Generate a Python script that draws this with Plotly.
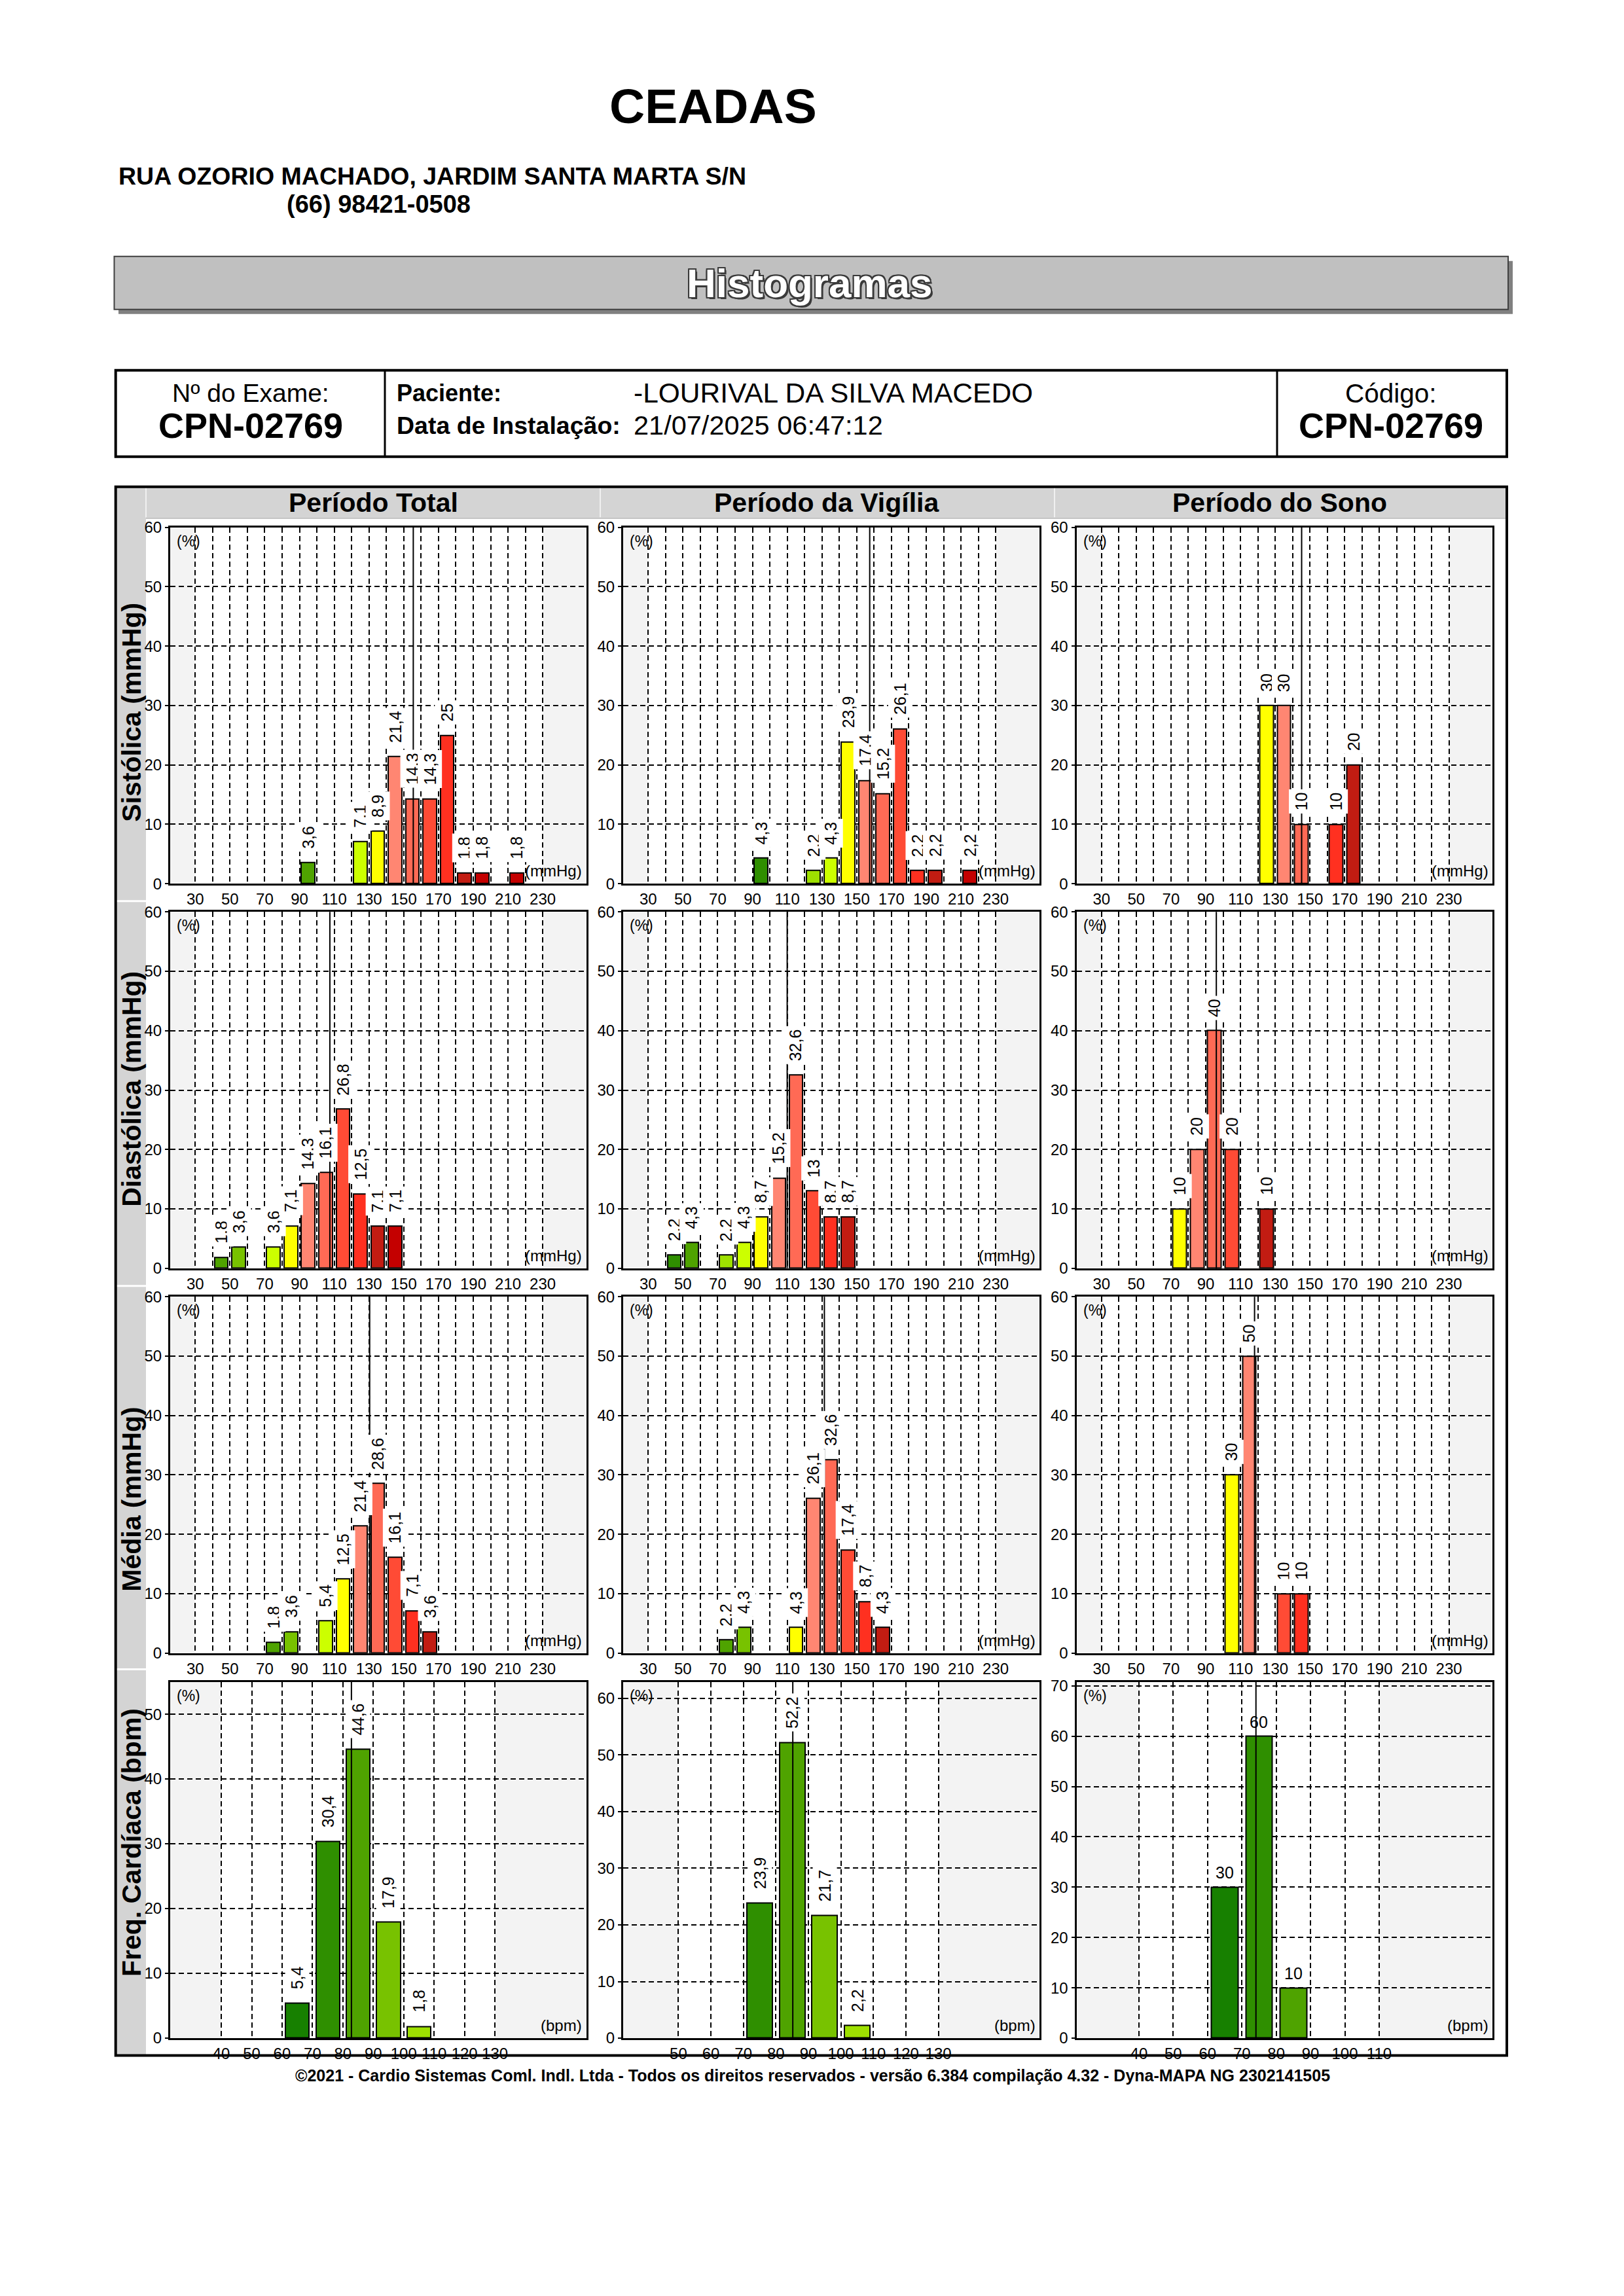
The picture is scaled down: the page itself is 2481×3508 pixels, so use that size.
import plotly.graph_objects as go

W, H = 2481, 3508
FONT = "Liberation Sans, Arial, Helvetica, sans-serif"

# ---------------- text ----------------
title_text = "CEADAS"
address_text = "RUA OZORIO MACHADO, JARDIM SANTA MARTA S/N"
phone_text = "(66) 98421-0508"
band_text = "Histogramas"
exam_label = "Nº do Exame:"
exam_code = "CPN-02769"
patient_label = "Paciente:"
patient_name = "-LOURIVAL DA SILVA MACEDO"
install_label = "Data de Instalação:"
install_date = "21/07/2025 06:47:12"
code_label = "Código:"
code_value = "CPN-02769"
footer_text = ("©2021 - Cardio Sistemas Coml. Indl. Ltda - Todos os direitos reservados - "
               "versão 6.384 compilação 4.32 - Dyna-MAPA NG 2302141505")
col_titles = ["Período Total", "Período da Vigília", "Período do Sono"]
row_titles = ["Sistólica (mmHg)", "Diastólica (mmHg)", "Média (mmHg)", "Freq. Cardíaca (bpm)"]
row_units = ["(mmHg)", "(mmHg)", "(mmHg)", "(bpm)"]

# ---------------- tick labels ----------------
bp_ticks = [30, 40, 50, 60, 70, 80, 90, 100, 110, 120, 130, 140, 150, 160, 170, 180, 190, 200, 210, 220, 230]
bp_tick_labels = ["30", "", "50", "", "70", "", "90", "", "110", "", "130", "", "150", "", "170", "",
                  "190", "", "210", "", "230"]
fc_total_ticks = [40, 50, 60, 70, 80, 90, 100, 110, 120, 130]
fc_vig_ticks = [50, 60, 70, 80, 90, 100, 110, 120, 130]
fc_sono_ticks = [40, 50, 60, 70, 80, 90, 100, 110]
bp_y_ticks = [0, 10, 20, 30, 40, 50, 60]
fc_total_y_ticks = [0, 10, 20, 30, 40, 50]
fc_vig_y_ticks = [0, 10, 20, 30, 40, 50, 60]
fc_sono_y_ticks = [0, 10, 20, 30, 40, 50, 60, 70]

# ---------------- data (bin lower edge, % of readings) ----------------
sys_total_bins = [90, 120, 130, 140, 150, 160, 170, 180, 190, 210]
sys_total_vals = [3.6, 7.1, 8.9, 21.4, 14.3, 14.3, 25, 1.8, 1.8, 1.8]
sys_vig_bins = [90, 120, 130, 140, 150, 160, 170, 180, 190, 210]
sys_vig_vals = [4.3, 2.2, 4.3, 23.9, 17.4, 15.2, 26.1, 2.2, 2.2, 2.2]
sys_sono_bins = [120, 130, 140, 160, 170]
sys_sono_vals = [30, 30, 10, 10, 20]

dia_total_bins = [40, 50, 70, 80, 90, 100, 110, 120, 130, 140]
dia_total_vals = [1.8, 3.6, 3.6, 7.1, 14.3, 16.1, 26.8, 12.5, 7.1, 7.1]
dia_vig_bins = [40, 50, 70, 80, 90, 100, 110, 120, 130, 140]
dia_vig_vals = [2.2, 4.3, 2.2, 4.3, 8.7, 15.2, 32.6, 13, 8.7, 8.7]
dia_sono_bins = [70, 80, 90, 100, 120]
dia_sono_vals = [10, 20, 40, 20, 10]

med_total_bins = [70, 80, 100, 110, 120, 130, 140, 150, 160]
med_total_vals = [1.8, 3.6, 5.4, 12.5, 21.4, 28.6, 16.1, 7.1, 3.6]
med_vig_bins = [70, 80, 110, 120, 130, 140, 150, 160]
med_vig_vals = [2.2, 4.3, 4.3, 26.1, 32.6, 17.4, 8.7, 4.3]
med_sono_bins = [100, 110, 130, 140]
med_sono_vals = [30, 50, 10, 10]

fc_total_bins = [60, 70, 80, 90, 100]
fc_total_vals = [5.4, 30.4, 44.6, 17.9, 1.8]
fc_vig_bins = [70, 80, 90, 100]
fc_vig_vals = [23.9, 52.2, 21.7, 2.2]
fc_sono_bins = [60, 70, 80]
fc_sono_vals = [30, 60, 10]

# mean values (vertical line)
sys_means = [155.5, 157.5, 145.2]
dia_means = [107.5, 110.0, 96.1]
med_means = [130.4, 131.4, 118.1]
fc_means = [82.8, 85.2, 74.1]

# ---------------- styles ----------------
DKGREEN1 = "#178000"
DKGREEN2 = "#2f8f00"
GREEN = "#4fa300"
YG = "#78c200"
LIME2 = "#9ee000"
LIME = "#ccff00"
YELLOW = "#ffff00"
SALMON = "#ff8672"
SALMON2 = "#ff6a55"
REDOR = "#ff4b35"
RED = "#ff3020"
DKRED = "#c21c12"
CRIMSON = "#c40000"

sys_total_colors = [GREEN, LIME, YELLOW, SALMON, SALMON2, REDOR, RED, DKRED, CRIMSON, CRIMSON]
sys_vig_colors = [DKGREEN2, LIME2, LIME, YELLOW, SALMON, SALMON2, REDOR, RED, DKRED, CRIMSON]
sys_sono_colors = [YELLOW, SALMON, SALMON2, RED, DKRED]
dia_total_colors = [GREEN, YG, LIME, YELLOW, SALMON, SALMON2, REDOR, RED, DKRED, CRIMSON]
dia_vig_colors = [DKGREEN2, GREEN, LIME2, LIME, YELLOW, SALMON, SALMON2, REDOR, RED, DKRED]
dia_sono_colors = [YELLOW, SALMON, SALMON2, REDOR, DKRED]
med_total_colors = [GREEN, YG, LIME, YELLOW, SALMON, SALMON2, REDOR, RED, DKRED]
med_vig_colors = [GREEN, YG, YELLOW, SALMON, SALMON2, REDOR, RED, DKRED]
med_sono_colors = [YELLOW, SALMON, REDOR, RED]
fc_total_colors = [DKGREEN1, DKGREEN2, GREEN, YG, LIME2]
fc_vig_colors = [DKGREEN2, GREEN, YG, LIME2]
fc_sono_colors = [DKGREEN1, DKGREEN2, GREEN]

# layout geometry (pixels)
COL_LEFT = [260, 952, 1644.5]
PANEL_W = 635.5
ROW_TOP = [805, 1392.6, 1980.6, 2569]
PANEL_H = 544.5
BIN_W = 10
BAR_W = 7.8
# vertical calibration of the rendered page (observed affine squeeze)
Y_OFF, Y_SCALE = 13.2, 0.99238


def px(x):
    return x / W


def py(y):
    return 1 - ((y - Y_OFF) / Y_SCALE) / H


def fmt(v):
    return f"{v:g}".replace(".", ",")


BP_XR = [15.6, 255]
panels = [
    dict(bins=sys_total_bins, vals=sys_total_vals, colors=sys_total_colors, mean=sys_means[0]),
    dict(bins=sys_vig_bins, vals=sys_vig_vals, colors=sys_vig_colors, mean=sys_means[1]),
    dict(bins=sys_sono_bins, vals=sys_sono_vals, colors=sys_sono_colors, mean=sys_means[2]),
    dict(bins=dia_total_bins, vals=dia_total_vals, colors=dia_total_colors, mean=dia_means[0]),
    dict(bins=dia_vig_bins, vals=dia_vig_vals, colors=dia_vig_colors, mean=dia_means[1]),
    dict(bins=dia_sono_bins, vals=dia_sono_vals, colors=dia_sono_colors, mean=dia_means[2]),
    dict(bins=med_total_bins, vals=med_total_vals, colors=med_total_colors, mean=med_means[0]),
    dict(bins=med_vig_bins, vals=med_vig_vals, colors=med_vig_colors, mean=med_means[1]),
    dict(bins=med_sono_bins, vals=med_sono_vals, colors=med_sono_colors, mean=med_means[2]),
    dict(bins=fc_total_bins, vals=fc_total_vals, colors=fc_total_colors, mean=fc_means[0]),
    dict(bins=fc_vig_bins, vals=fc_vig_vals, colors=fc_vig_colors, mean=fc_means[1]),
    dict(bins=fc_sono_bins, vals=fc_sono_vals, colors=fc_sono_colors, mean=fc_means[2]),
]
for i in range(9):
    panels[i].update(xr=BP_XR, yr=[0, 60], xt=bp_ticks, xtt=bp_tick_labels, yt=bp_y_ticks,
                     white=[bp_ticks[0], bp_ticks[-1]], rot=True)
panels[9].update(xr=[23.2, 160], yr=[0, 55], xt=fc_total_ticks, xtt=[str(t) for t in fc_total_ticks],
                 yt=fc_total_y_ticks, white=[fc_total_ticks[0], fc_total_ticks[-1]], rot=True)
panels[10].update(xr=[33, 161], yr=[0, 62.9], xt=fc_vig_ticks, xtt=[str(t) for t in fc_vig_ticks],
                  yt=fc_vig_y_ticks, white=[fc_vig_ticks[0], fc_vig_ticks[-1]], rot=True)
panels[11].update(xr=[21.8, 143], yr=[0, 70.8], xt=fc_sono_ticks, xtt=[str(t) for t in fc_sono_ticks],
                  yt=fc_sono_y_ticks, white=[fc_sono_ticks[0], fc_sono_ticks[-1]], rot=False)

fig = go.Figure()
shapes = []
annotations = []
layout_axes = {}

tickfont = dict(family=FONT, size=24, color="black")

# ---------------- page decoration (drawn below the plots) ----------------
BOX_L, BOX_R = 176.7, 2302
shapes.append(dict(type="rect", xref="paper", yref="paper", x0=px(181), x1=px(2311),
                   y0=py(479), y1=py(398), fillcolor="#808080", line=dict(width=0), layer="below"))
shapes.append(dict(type="rect", xref="paper", yref="paper", x0=px(174.5), x1=px(2304),
                   y0=py(472), y1=py(391), fillcolor="#c0c0c0", line=dict(color="#404040", width=2),
                   layer="below"))
shapes.append(dict(type="rect", xref="paper", yref="paper", x0=px(BOX_L), x1=px(BOX_R),
                   y0=py(697), y1=py(565), fillcolor="white", line=dict(color="black", width=4),
                   layer="below"))
for xd in (588, 1951):
    shapes.append(dict(type="line", xref="paper", yref="paper", x0=px(xd), x1=px(xd),
                       y0=py(697), y1=py(565), line=dict(color="black", width=3), layer="below"))
shapes.append(dict(type="rect", xref="paper", yref="paper", x0=px(BOX_L), x1=px(BOX_R),
                   y0=py(790), y1=py(743), fillcolor="#d4d4d4", line=dict(width=0), layer="below"))
shapes.append(dict(type="rect", xref="paper", yref="paper", x0=px(BOX_L), x1=px(223),
                   y0=py(3140), y1=py(743), fillcolor="#d4d4d4", line=dict(width=0), layer="below"))
for xs in (223, 917, 1611):
    shapes.append(dict(type="line", xref="paper", yref="paper", x0=px(xs), x1=px(xs),
                       y0=py(790), y1=py(743), line=dict(color="#f0f0f0", width=2), layer="below"))
for ys in (1376, 1964, 2550):
    shapes.append(dict(type="line", xref="paper", yref="paper", x0=px(BOX_L), x1=px(223),
                       y0=py(ys), y1=py(ys), line=dict(color="white", width=3), layer="below"))
shapes.append(dict(type="line", xref="paper", yref="paper", x0=px(223), x1=px(BOX_R),
                   y0=py(791), y1=py(791), line=dict(color="#bdbdbd", width=2), layer="below"))
shapes.append(dict(type="rect", xref="paper", yref="paper", x0=px(BOX_L), x1=px(BOX_R),
                   y0=py(3140), y1=py(743), line=dict(color="black", width=4), layer="below"))

for k, p in enumerate(panels, start=1):
    r, c = (k - 1) // 3, (k - 1) % 3
    sid = "" if k == 1 else str(k)
    x0 = COL_LEFT[c]
    y0 = ROW_TOP[r]
    layout_axes["xaxis" + sid] = dict(
        domain=[px(x0), px(x0 + PANEL_W)], range=p["xr"], anchor="y" + sid,
        tickmode="array", tickvals=p["xt"], ticktext=p["xtt"],
        showgrid=True, gridcolor="black", griddash="8px,5px", gridwidth=2,
        showline=True, mirror=True, linecolor="black", linewidth=3,
        ticks="", zeroline=False, tickfont=tickfont, fixedrange=True)
    layout_axes["yaxis" + sid] = dict(
        domain=[py(y0 + PANEL_H), py(y0)], range=p["yr"], anchor="x" + sid,
        tickmode="array", tickvals=p["yt"], ticktext=[str(t) for t in p["yt"]],
        showgrid=True, gridcolor="black", griddash="8px,5px", gridwidth=2,
        showline=True, mirror=True, linecolor="black", linewidth=3,
        ticks="outside", ticklen=5, tickwidth=2, tickcolor="black",
        zeroline=False, tickfont=tickfont, fixedrange=True)

    centers = [b + BIN_W / 2 for b in p["bins"]]
    fig.add_trace(go.Bar(
        x=centers, y=p["vals"], width=BAR_W, xaxis="x" + sid, yaxis="y" + sid,
        marker=dict(color=p["colors"], line=dict(color="black", width=2)),
        showlegend=False, hoverinfo="skip"))

    # white central area
    shapes.append(dict(type="rect", xref="x" + sid, yref="y" + sid + " domain",
                       x0=p["white"][0], x1=p["white"][1], y0=0, y1=1,
                       fillcolor="white", line=dict(width=0), layer="below"))
    # mean line
    shapes.append(dict(type="line", xref="x" + sid, yref="y" + sid + " domain",
                       x0=p["mean"], x1=p["mean"], y0=0, y1=1,
                       line=dict(color="black", width=2), layer="above"))

    # value labels
    for xc, v in zip(centers, p["vals"]):
        if p["rot"]:
            annotations.append(dict(x=xc, y=v, xref="x" + sid, yref="y" + sid, text=fmt(v),
                                    textangle=-90, showarrow=False, xanchor="center",
                                    yanchor="bottom", yshift=16, bgcolor="white", borderpad=4,
                                    font=dict(family=FONT, size=25, color="black")))
        else:
            annotations.append(dict(x=xc, y=v, xref="x" + sid, yref="y" + sid, text=fmt(v),
                                    showarrow=False, xanchor="center", yanchor="bottom",
                                    yshift=6, font=dict(family=FONT, size=25, color="black")))
    # (%) and unit labels
    annotations.append(dict(x=0, y=1, xref="x" + sid + " domain", yref="y" + sid + " domain",
                            text="(%)", showarrow=False, xanchor="left", yanchor="top",
                            xshift=8, yshift=-6, font=dict(family=FONT, size=23, color="black")))
    annotations.append(dict(x=1, y=0, xref="x" + sid + " domain", yref="y" + sid + " domain",
                            text=row_units[r], showarrow=False, xanchor="right", yanchor="bottom",
                            xshift=-4, yshift=4, font=dict(family=FONT, size=24, color="black")))


def text_ann(x, y, text, size, xanchor="center", color="black", angle=0, yanchor="middle",
             xshift=0, yshift=0):
    return dict(x=px(x), y=py(y), xref="paper", yref="paper", text=text, showarrow=False,
                xanchor=xanchor, yanchor=yanchor, textangle=angle, xshift=xshift, yshift=yshift,
                font=dict(family=FONT, size=size, color=color))


annotations.append(text_ann(1089, 161, "<b>" + title_text + "</b>", 75))
annotations.append(text_ann(179, 268, "<b>" + address_text + "</b>", 37.5, xanchor="left"))
annotations.append(text_ann(578, 311, "<b>" + phone_text + "</b>", 38))

# Histogramas outlined text
for dx, dy in [(-2, -2), (-2, 0), (-2, 2), (0, -2), (0, 2), (2, -2), (2, 0), (2, 2), (3, -3)]:
    annotations.append(text_ann(1237, 432, "<b>" + band_text + "</b>", 62, color="#3a3a3a",
                                xshift=dx, yshift=dy))
annotations.append(text_ann(1237, 432, "<b>" + band_text + "</b>", 62, color="white"))

annotations.append(text_ann(383, 600, exam_label, 39))
annotations.append(text_ann(383, 649, "<b>" + exam_code + "</b>", 54))
annotations.append(text_ann(604, 600, "<b>" + patient_label + "</b>", 36, xanchor="left"))
annotations.append(text_ann(966, 600, patient_name, 42.5, xanchor="left"))
annotations.append(text_ann(604, 649, "<b>" + install_label + "</b>", 37.5, xanchor="left"))
annotations.append(text_ann(966, 649, install_date, 41.5, xanchor="left"))
annotations.append(text_ann(2125, 600, code_label, 40.5))
annotations.append(text_ann(2125, 649, "<b>" + code_value + "</b>", 54))

for c, t in enumerate(col_titles):
    xc = COL_LEFT[c] + PANEL_W / 2 - 7
    annotations.append(text_ann(xc, 767, "<b>" + t + "</b>", 41))
for r, t in enumerate(row_titles):
    annotations.append(text_ann(201, ROW_TOP[r] + PANEL_H - 92, "<b>" + t + "</b>", 41,
                                angle=-90, yanchor="bottom"))

annotations.append(text_ann(1241, 3170, "<b>" + footer_text + "</b>", 25))

fig.update_layout(
    width=W, height=H, margin=dict(l=0, r=0, t=0, b=0, pad=0),
    paper_bgcolor="white", plot_bgcolor="#f3f3f3", showlegend=False,
    font=dict(family=FONT, color="black"),
    shapes=shapes, annotations=annotations, bargap=0, **layout_axes)

fig.write_html("out.html", config={"displayModeBar": False},
               post_script="document.body.style.margin='0px';")
